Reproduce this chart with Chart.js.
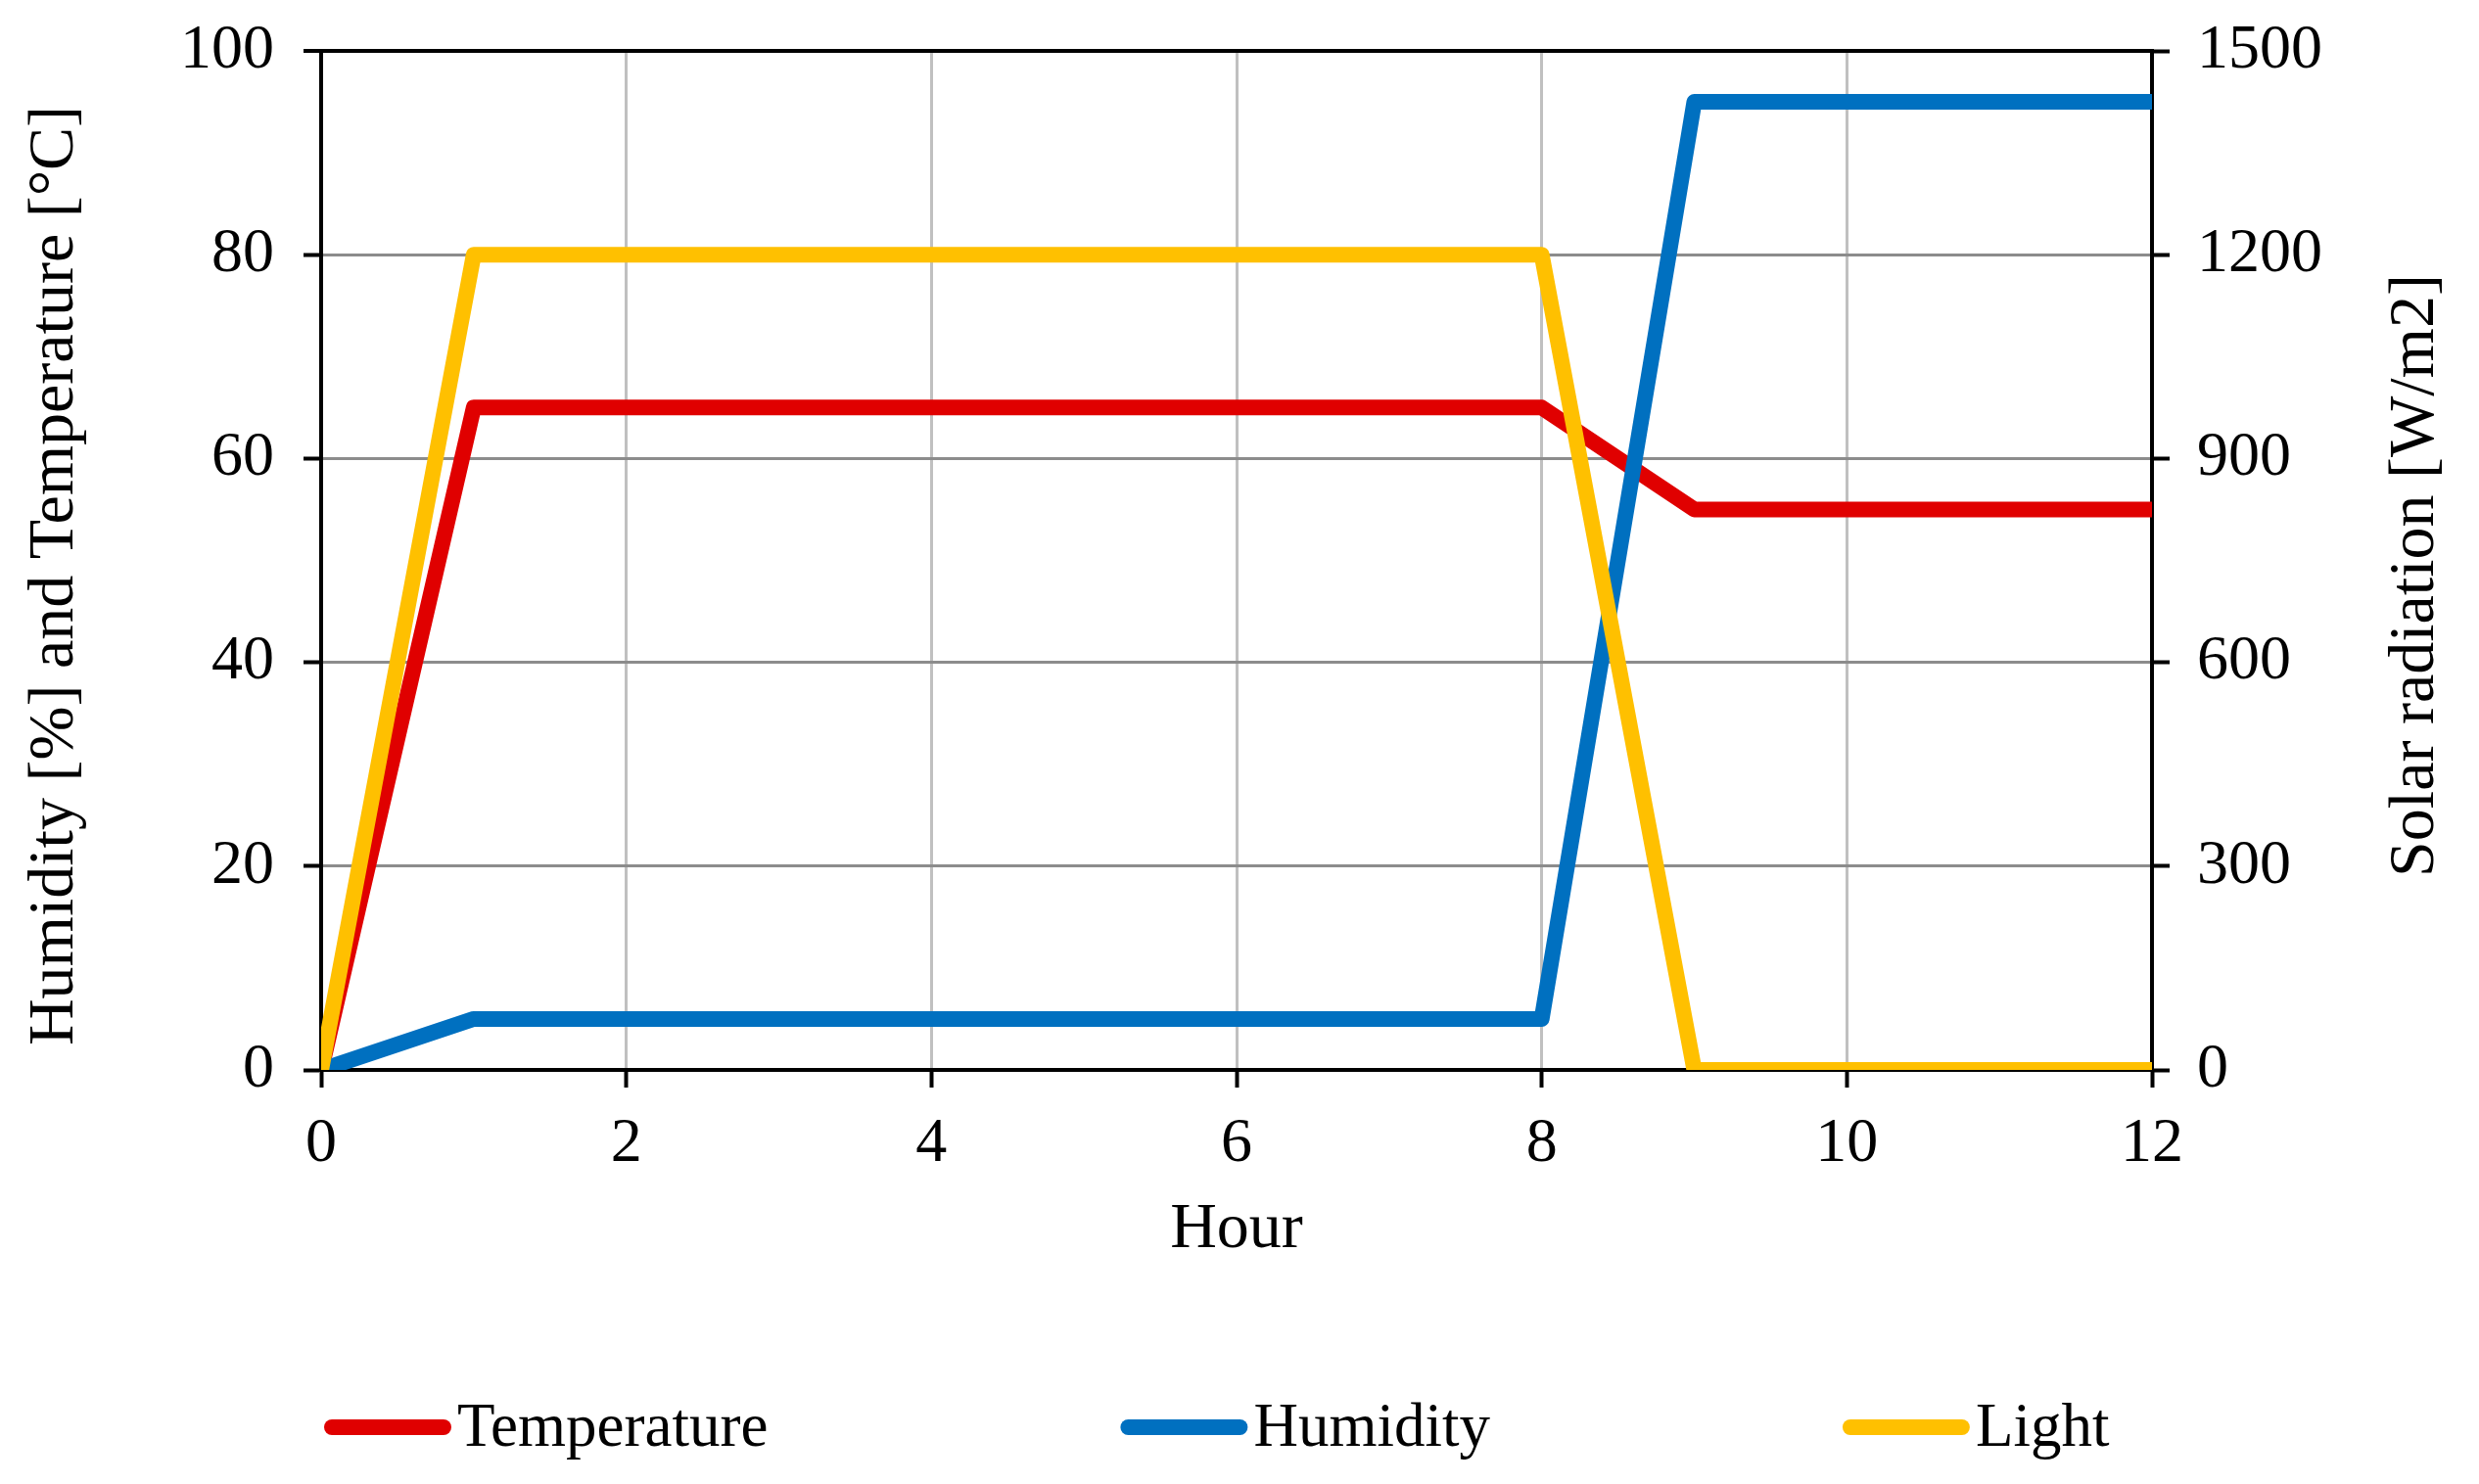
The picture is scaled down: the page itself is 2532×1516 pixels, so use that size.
<!DOCTYPE html>
<html>
<head>
<meta charset="utf-8">
<title>Temperature, humidity and light</title>
<script src="https://cdn.jsdelivr.net/npm/chart.js@4.4.0/dist/chart.umd.min.js"></script>
<style>
    html, body { margin: 0; padding: 0; background: #fff; }
    #wrap { width: 2532px; height: 1516px; }
</style>
</head>
<body>
<div id="wrap"><canvas id="chart1" width="2532" height="1516"></canvas></div>
<script>
// values
var hours = [0, 1, 2, 3, 4, 5, 6, 7, 8, 9, 10, 11, 12, 12.5];
var temperature = [0, 65, 65, 65, 65, 65, 65, 65, 65, 55, 55, 55, 55, 0];
var humidity = [0, 5, 5, 5, 5, 5, 5, 5, 5, 95, 95, 95, 95, 0];
var light = [0, 1200, 1200, 1200, 1200, 1200, 1200, 1200, 1200, 0, 0, 0, 0, 0];

var seriesNames = ['Temperature', 'Humidity', 'Light'];
var seriesColors = ['#e00000', '#0070c0', '#ffc000'];

var hourTicks = [0, 2, 4, 6, 8, 10, 12];
var leftTicks = [0, 20, 40, 60, 80, 100];
var rightTicks = [0, 300, 600, 900, 1200, 1500];
var leftTitle = 'Humidity [%] and Temperature [°C]';
var rightTitle = 'Solar radiation [W/m2]';

function points(values) {
    return hours.map(function (h, i) {
        return { x: h, y: values[i] };
    });
}

function setTicks(list) {
    return function (scale) {
        scale.ticks = list.map(function (v) { return { value: v }; });
    };
}

function fixWidth(w) {
    return function (scale) {
        scale.width = w;
        scale.paddingTop = 0;
        scale.paddingBottom = 0;
    };
}

function plain(v) {
    return String(v);
}

Chart.defaults.font.family = '"Liberation Serif", "Times New Roman", serif';
Chart.defaults.font.size = 64;
Chart.defaults.color = '#000';

// legend under the axis, spread out like the original, plus the two
// y axis titles, both reading bottom to top and sitting a bit low
var extras = {
    id: 'extras',
    afterDraw: function (chart) {
        var ctx = chart.ctx;
        var x = chart.chartArea.left + 3;
        var y = 1458;
        ctx.save();
        ctx.font = '63px "Liberation Serif"';
        ctx.textBaseline = 'middle';
        chart.data.datasets.forEach(function (ds) {
            ctx.strokeStyle = ds.borderColor;
            ctx.lineWidth = 16;
            ctx.lineCap = 'round';
            ctx.beginPath();
            ctx.moveTo(x + 8, y);
            ctx.lineTo(x + 122, y);
            ctx.stroke();
            ctx.fillStyle = '#000';
            ctx.fillText(ds.label, x + 136, y + 2);
            x += 136 + ctx.measureText(ds.label).width + 360;
        });

        ctx.font = '66px "Liberation Serif"';
        ctx.textAlign = 'center';
        [[57, leftTitle], [2468, rightTitle]].forEach(function (t) {
            ctx.save();
            ctx.translate(t[0], 588);
            ctx.rotate(-Math.PI / 2);
            ctx.fillText(t[1], 0, 0);
            ctx.restore();
        });
        ctx.restore();
    }
};

var ctx1 = document.getElementById('chart1').getContext('2d');
new Chart(ctx1, {
    type: 'line',
    data: {
        datasets: [{
            label: seriesNames[0],
            data: points(temperature),
            borderColor: seriesColors[0],
            yAxisID: 'y',
            order: 3
        }, {
            label: seriesNames[1],
            data: points(humidity),
            borderColor: seriesColors[1],
            yAxisID: 'y',
            order: 2
        }, {
            label: seriesNames[2],
            data: points(light),
            borderColor: seriesColors[2],
            yAxisID: 'y1',
            order: 1
        }]
    },
    options: {
        responsive: false,
        animation: false,
        devicePixelRatio: 1,
        layout: {
            padding: { top: 52, bottom: 220, left: 0, right: 0 }
        },
        elements: {
            line: { borderWidth: 16, tension: 0, borderJoinStyle: 'round', fill: false },
            point: { radius: 0, hoverRadius: 0 }
        },
        datasets: {
            line: { clip: 0 }
        },
        plugins: {
            legend: { display: false },
            tooltip: { enabled: false }
        },
        scales: {
            x: {
                type: 'linear',
                min: hourTicks[0],
                max: hourTicks[hourTicks.length - 1],
                afterBuildTicks: setTicks(hourTicks),
                afterFit: function (scale) { scale.height = 203; },
                grid: { color: '#c0c0c0', lineWidth: 3, tickColor: '#000', tickWidth: 4, tickLength: 18 },
                border: { color: '#000', width: 4 },
                ticks: { padding: 20, maxRotation: 0, callback: plain },
                title: { display: true, text: 'Hour', font: { size: 66 }, padding: 0 }
            },
            y: {
                position: 'left',
                min: leftTicks[0],
                max: leftTicks[leftTicks.length - 1],
                afterBuildTicks: setTicks(leftTicks),
                afterFit: fixWidth(328),
                grid: {
                    color: function (c) { return c.tick && c.tick.value === 100 ? '#000' : '#8c8c8c'; },
                    lineWidth: function (c) { return c.tick && c.tick.value === 100 ? 4 : 3; },
                    tickColor: '#000', tickWidth: 4, tickLength: 18
                },
                border: { color: '#000', width: 4 },
                ticks: { padding: 30, callback: plain }
            },
            y1: {
                position: 'right',
                min: rightTicks[0],
                max: rightTicks[rightTicks.length - 1],
                afterBuildTicks: setTicks(rightTicks),
                afterFit: fixWidth(334),
                grid: { drawOnChartArea: false, tickColor: '#000', tickWidth: 4, tickLength: 18 },
                border: { color: '#000', width: 4 },
                ticks: { padding: 28, callback: plain }
            }
        }
    },
    plugins: [extras]
});
</script>
</body>
</html>
